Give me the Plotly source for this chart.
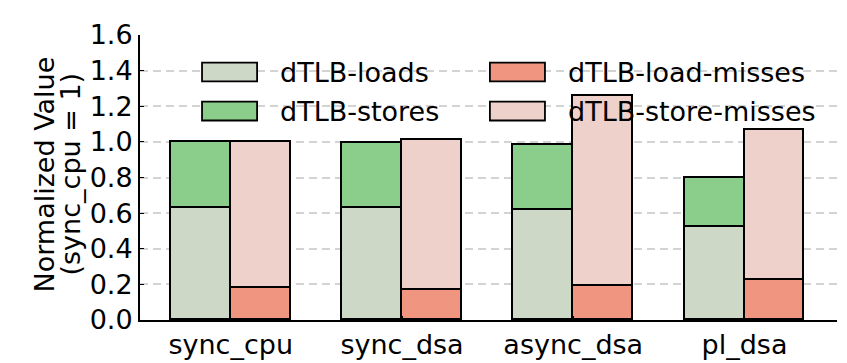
import plotly.graph_objects as go

# --------------------------------------------
# Data (normalized to sync_cpu = 1)
# --------------------------------------------
categories = ["sync_cpu", "sync_dsa", "async_dsa", "pl_dsa"]
dtlb_loads = [0.63, 0.63, 0.62, 0.52]
dtlb_stores = [0.37, 0.365, 0.365, 0.28]
dtlb_load_misses = [0.18, 0.17, 0.19, 0.225]
dtlb_store_misses = [0.82, 0.84, 1.07, 0.84]
y_ticks = [0.0, 0.2, 0.4, 0.6, 0.8, 1.0, 1.2, 1.4, 1.6]
y_title_lines = ["Normalized Value", "(sync_cpu = 1)"]

colors = {
    "dTLB-loads": "#cdd8c6",
    "dTLB-stores": "#8bcd8a",
    "dTLB-load-misses": "#f0957f",
    "dTLB-store-misses": "#efd1cb",
}
FONT = "DejaVu Sans"
FS = 27
bar_w = 0.35
idx = list(range(len(categories)))
x_left = [i - bar_w / 2 for i in idx]
x_right = [i + bar_w / 2 for i in idx]

fig = go.Figure()
# order matters for stacking: loads/stores on the left bar, misses on the right bar
series = [
    ("dTLB-loads", x_left, dtlb_loads),
    ("dTLB-load-misses", x_right, dtlb_load_misses),
    ("dTLB-stores", x_left, dtlb_stores),
    ("dTLB-store-misses", x_right, dtlb_store_misses),
]
for name, xs, ys in series:
    fig.add_trace(go.Bar(
        x=xs, y=ys, name=name, width=bar_w,
        marker=dict(color=colors[name], line=dict(color="black", width=1.8)),
        showlegend=False,
    ))

# --------------------------------------------
# Legend drawn by hand (bigger swatches, no frame)
# --------------------------------------------
legend_rows = [["dTLB-loads", "dTLB-load-misses"], ["dTLB-stores", "dTLB-store-misses"]]
row_y = [0.870, 0.733]
col_x = [0.089, 0.502]
sw_w, sw_h = 0.079, 0.033
for r, row in enumerate(legend_rows):
    for c, name in enumerate(row):
        fig.add_shape(type="rect", xref="paper", yref="paper", layer="above",
                      x0=col_x[c], x1=col_x[c] + sw_w,
                      y0=row_y[r] - sw_h, y1=row_y[r] + sw_h,
                      fillcolor=colors[name], line=dict(color="black", width=1.8))
        fig.add_annotation(xref="paper", yref="paper", x=col_x[c] + sw_w + 0.03, y=row_y[r],
                           text=name, showarrow=False, xanchor="left", yanchor="middle",
                           font=dict(family=FONT, size=FS, color="black"))

# y title as two rotated lines (tighter line spacing than plotly's <br>)
for line, shift in zip(y_title_lines, [-96, -70]):
    fig.add_annotation(xref="paper", yref="paper", x=0, y=0.5, xshift=shift, yshift=3,
                       text=line, textangle=-90, showarrow=False,
                       xanchor="center", yanchor="middle",
                       font=dict(family=FONT, size=FS, color="black"))

fig.update_layout(
    width=847, height=363,
    barmode="stack",
    bargap=0,
    plot_bgcolor="white", paper_bgcolor="white",
    margin=dict(l=132, r=18, t=27, b=51),
    font=dict(family=FONT, size=FS, color="black"),
)
fig.update_xaxes(
    tickmode="array", tickvals=idx, ticktext=categories,
    range=[-0.53, 3.54],
    showline=True, linecolor="black", linewidth=2,
    ticks="inside", ticklen=4, tickcolor="black",
    showgrid=False, zeroline=False, automargin=False,
    tickfont=dict(family=FONT, size=FS),
)
fig.update_yaxes(
    range=[0, 1.6], tickvals=y_ticks, tickformat=".1f",
    showline=True, linecolor="black", linewidth=2,
    ticks="inside", ticklen=4, tickcolor="black",
    showgrid=True, gridcolor="#d3d3d3", gridwidth=1.5, griddash="8px,5px",
    zeroline=False, automargin=False,
    tickfont=dict(family=FONT, size=FS),
)

fig.write_html("out.html")
